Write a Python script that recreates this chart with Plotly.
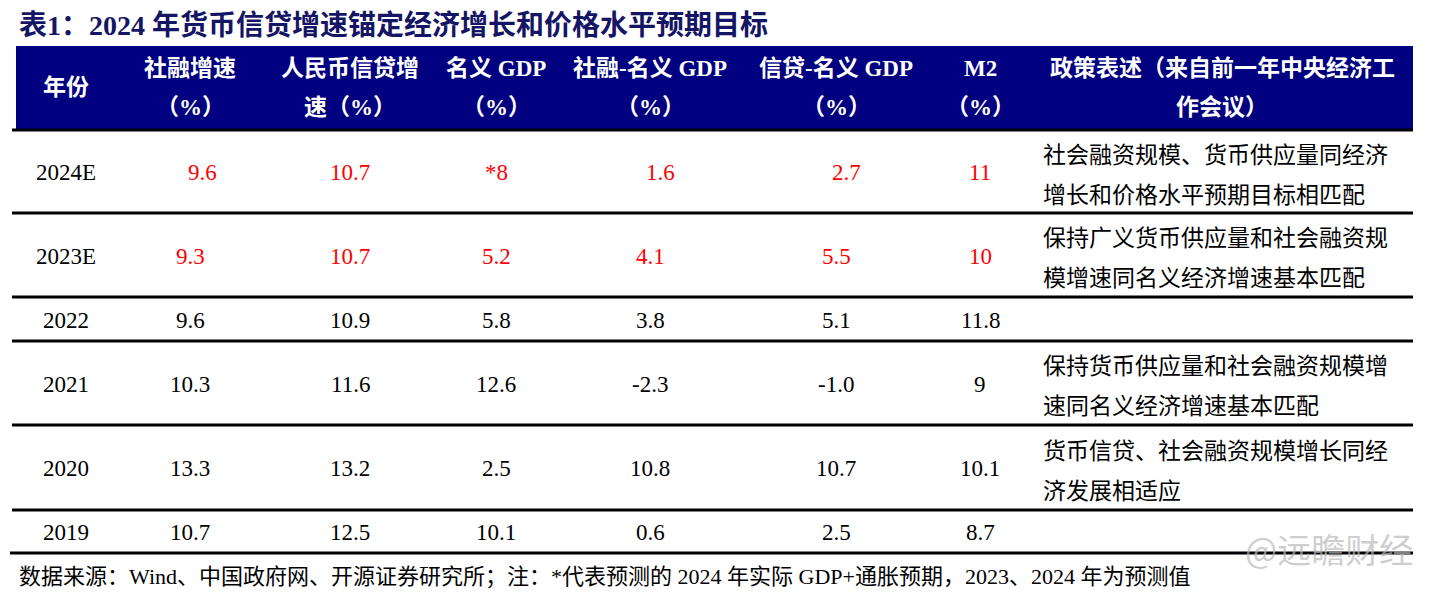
import plotly.graph_objects as go

# ---------------- data ----------------
title = "表1：2024 年货币信贷增速锚定经济增长和价格水平预期目标"
header_line1 = ["年份", "社融增速", "人民币信贷增", "名义 GDP", "社融-名义 GDP", "信贷-名义 GDP", "M2", "政策表述（来自前一年中央经济工"]
header_line2 = ["", "（%）", "速（%）", "（%）", "（%）", "（%）", "（%）", "作会议）"]
years = ["2024E", "2023E", "2022", "2021", "2020", "2019"]
social_fin = ["9.6", "9.3", "9.6", "10.3", "13.3", "10.7"]
rmb_credit = ["10.7", "10.7", "10.9", "11.6", "13.2", "12.5"]
nominal_gdp = ["*8", "5.2", "5.8", "12.6", "2.5", "10.1"]
sf_minus_gdp = ["1.6", "4.1", "3.8", "-2.3", "10.8", "0.6"]
cr_minus_gdp = ["2.7", "5.5", "5.1", "-1.0", "10.7", "2.5"]
m2 = ["11", "10", "11.8", "9", "10.1", "8.7"]
policy = [
    ["社会融资规模、货币供应量同经济", "增长和价格水平预期目标相匹配"],
    ["保持广义货币供应量和社会融资规", "模增速同名义经济增速基本匹配"],
    [],
    ["保持货币供应量和社会融资规模增", "速同名义经济增速基本匹配"],
    ["货币信贷、社会融资规模增长同经", "济发展相适应"],
    [],
]
forecast = [True, True, False, False, False, False]
source = "数据来源：Wind、中国政府网、开源证券研究所；注：*代表预测的 2024 年实际 GDP+通胀预期，2023、2024 年为预测值"
watermark = "@远瞻财经"

# ---------------- layout styles ----------------
PAGE_W, PAGE_H = 1441, 601
OFF = 8  # default body margin of the html page
W, H = PAGE_W - 2 * OFF, PAGE_H - 2 * OFF
col_x = [66, 190, 350, 496, 650, 836, 980]
row_dx = [[0, 12, 0, 0, 10, 10, 0]] + [[0] * 7] * 5
policy_x = 1041
policy_hx = 1222
row_edges = [130, 213, 297, 341, 425, 510, 553]
header_top, header_bot = 46, 129
table_left, table_right = 12, 1413
navy = "#000080"
title_color = "#151565"
red = "#ff0000"
SERIF = "Liberation Serif, Times New Roman, Noto Sans CJK SC"
CJK = "Noto Sans CJK SC, Liberation Serif"

fig = go.Figure()
fig.add_trace(go.Scatter(x=[OFF, OFF + W], y=[OFF, OFF + H], mode="markers", marker=dict(opacity=0),
                         hoverinfo="skip", showlegend=False))

shapes = []
ann = []

# title
ann.append(dict(x=17, y=25, text="<b>" + title + "</b>", xanchor="left", yanchor="middle",
                font=dict(family=SERIF, size=28, color=title_color)))

# header band
shapes.append(dict(type="rect", x0=16, x1=table_right, y0=header_top, y1=header_bot,
                   fillcolor=navy, line=dict(width=0), layer="below"))
hx = col_x + [policy_hx]
for i, (l1, l2) in enumerate(zip(header_line1, header_line2)):
    if l2 == "":
        ann.append(dict(x=hx[i], y=(header_top + header_bot) / 2, text="<b>" + l1 + "</b>",
                        xanchor="center", yanchor="middle", font=dict(family=SERIF, size=23, color="white")))
    else:
        ann.append(dict(x=hx[i], y=68, text="<b>" + l1 + "</b>", xanchor="center", yanchor="middle",
                        font=dict(family=SERIF, size=23, color="white")))
        ann.append(dict(x=hx[i], y=107, text="<b>" + l2 + "</b>", xanchor="center", yanchor="middle",
                        font=dict(family=SERIF, size=23, color="white")))

# row lines
for k, yv in enumerate(row_edges):
    shapes.append(dict(type="line", x0=(10 if k == len(row_edges) - 1 else table_left), x1=table_right,
                       y0=yv, y1=yv, line=dict(color="black", width=3)))

# rows
cols = [social_fin, rmb_credit, nominal_gdp, sf_minus_gdp, cr_minus_gdp, m2]
for r in range(len(years)):
    yc = (row_edges[r] + row_edges[r + 1]) / 2 + 1
    ann.append(dict(x=col_x[0], y=yc, text=years[r], xanchor="center", yanchor="middle",
                    font=dict(family=SERIF, size=23, color="black")))
    colr = red if forecast[r] else "black"
    for c, series in enumerate(cols):
        ann.append(dict(x=col_x[c + 1] + row_dx[r][c + 1], y=yc, text=series[r], xanchor="center",
                        yanchor="middle", font=dict(family=SERIF, size=23, color=colr)))
    for j, t in enumerate(policy[r]):
        ann.append(dict(x=policy_x, y=yc - 20 + 40 * j, text=t, xanchor="left", yanchor="middle",
                        font=dict(family=CJK, size=23, color="black")))

# footer
ann.append(dict(x=17, y=576, text=source, xanchor="left", yanchor="middle",
                font=dict(family=SERIF, size=22, color="black")))

# watermark
ann.append(dict(x=1415, y=548, text=watermark, xanchor="right", yanchor="middle",
                font=dict(family=CJK, size=34, color="rgba(185,185,185,0.7)")))

for a in ann:
    a.update(xref="x", yref="y", showarrow=False)

fig.update_layout(
    width=W, height=H, margin=dict(l=0, r=0, t=0, b=0),
    paper_bgcolor="white", plot_bgcolor="white",
    xaxis=dict(range=[OFF, OFF + W], visible=False, fixedrange=True),
    yaxis=dict(range=[OFF + H, OFF], visible=False, fixedrange=True),
    shapes=shapes, annotations=ann, showlegend=False,
)
fig.write_html("out.html")
